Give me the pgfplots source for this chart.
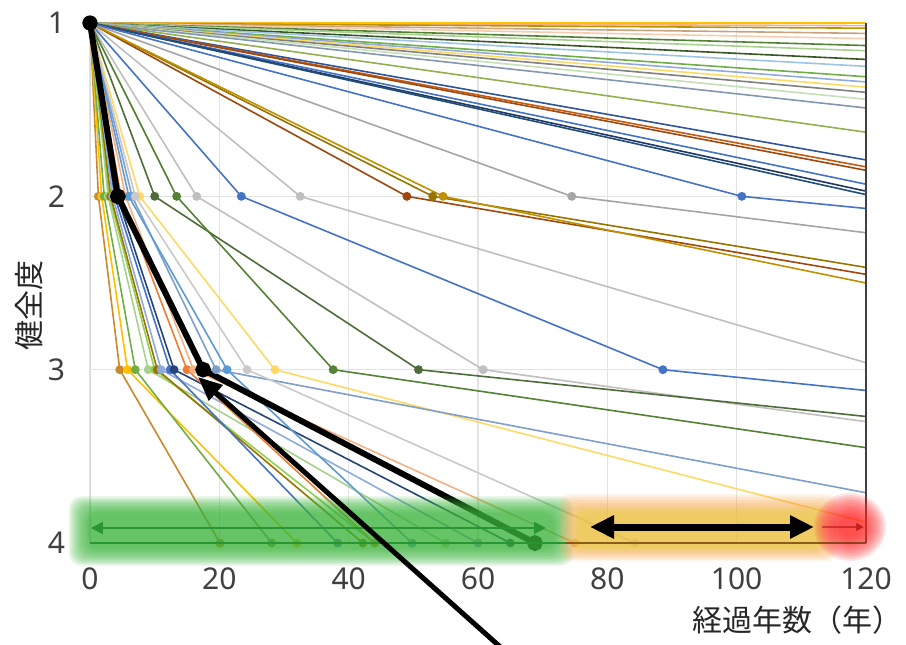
\documentclass[border=0pt]{standalone}
\usepackage{fontspec}
\setmainfont{Noto Sans}
\newfontfamily\jp{Noto Sans CJK JP}
\usepackage{pgfplots}
\pgfplotsset{compat=1.18}
\usetikzlibrary{arrows.meta}
\definecolor{cGold}{HTML}{FFC000}
\definecolor{cLOr}{HTML}{F4B183}
\definecolor{cDGold}{HTML}{BF9000}
\definecolor{cLBr}{HTML}{C9A27E}
\definecolor{cPeach}{HTML}{F8CBAD}
\definecolor{cDGr}{HTML}{548235}
\definecolor{cLGr}{HTML}{A9D18E}
\definecolor{cDDGr}{HTML}{375623}
\definecolor{cLBl}{HTML}{9DC3E6}
\definecolor{cGr}{HTML}{70AD47}
\definecolor{cLav}{HTML}{8FAADC}
\definecolor{cYel}{HTML}{FFD966}
\definecolor{cGray}{HTML}{7F7F7F}
\definecolor{cPGr}{HTML}{C5E0B4}
\definecolor{cGBl}{HTML}{8497B0}
\definecolor{cOlG}{HTML}{92B050}
\definecolor{cDBl}{HTML}{2F5597}
\definecolor{cBr}{HTML}{C55A11}
\definecolor{cDBr}{HTML}{9E480E}
\definecolor{cBl}{HTML}{4472C4}
\definecolor{cNavy}{HTML}{203864}
\definecolor{cDBl2}{HTML}{1F4E79}
\definecolor{cOl}{HTML}{997300}
\definecolor{cMGray}{HTML}{A5A5A5}
\definecolor{cLGray}{HTML}{BFBFBF}
\definecolor{cGGr}{HTML}{4E6B3A}
\definecolor{cOr}{HTML}{ED7D31}
\definecolor{cSky}{HTML}{5B9BD5}
\definecolor{cPGray}{HTML}{C9C9C9}
\definecolor{cYG}{HTML}{92D050}
\definecolor{cDNavy}{HTML}{264478}
\definecolor{cOGold}{HTML}{C98A2B}
\definecolor{cSteel}{HTML}{7F9FC8}
\definecolor{bandG}{RGB}{60,180,60}
\definecolor{bandO}{RGB}{245,160,60}
\definecolor{bandY}{RGB}{232,205,70}
\definecolor{bandR}{RGB}{255,40,40}
\definecolor{arrG}{RGB}{40,150,50}
\newcommand{\sen}[2]{\addplot[line width=0.8pt, color=#1, no marks] coordinates {#2};}
\newcommand{\ser}[3]{\addplot[line width=0.8pt, color=#1, mark=*, mark size=1.8pt, mark indices={#2}] coordinates {#3};}
\begin{document}
\begin{tikzpicture}
\useasboundingbox (-45pt,-50.5pt) rectangle (408pt,271.5pt);
\begin{axis}[
  at={(0,0)}, anchor=south west,
  scale only axis, width=388pt, height=260pt,
  xmin=0, xmax=120, ymin=1, ymax=4, y dir=reverse,
  xtick={0,20,...,120}, ytick={1,2,3,4},
  grid=major, major grid style={gray!22, line width=0.6pt},
  axis line style={gray!30},
  major tick length=0pt,
  clip=false,
  tick label style={font=\fontsize{15}{18}\selectfont, text=black!75},
  /pgf/number format/assume math mode=true,
  xticklabel style={yshift=-9pt},
  yticklabel style={xshift=-9pt},
]
% straight fan lines to the right edge
\sen{cGold}{(0,1)(120,1.00)}
\sen{cLOr}{(0,1)(120,1.015)}
\sen{cDGold}{(0,1)(120,1.03)}
\sen{cLBr}{(0,1)(120,1.06)}
\sen{cPeach}{(0,1)(120,1.09)}
\sen{cDGr}{(0,1)(120,1.13)}
\sen{cLGr}{(0,1)(120,1.16)}
\sen{cDDGr}{(0,1)(120,1.21)}
\sen{cLBl}{(0,1)(120,1.25)}
\sen{cGr}{(0,1)(120,1.31)}
\sen{cLav}{(0,1)(120,1.34)}
\sen{cYel}{(0,1)(120,1.37)}
\sen{cGray}{(0,1)(120,1.40)}
\sen{cPGr}{(0,1)(120,1.44)}
\sen{cGBl}{(0,1)(120,1.49)}
\sen{cOlG}{(0,1)(120,1.63)}
\sen{cDBl}{(0,1)(120,1.79)}
\sen{cBr}{(0,1)(120,1.83)}
\sen{cDBr}{(0,1)(120,1.85)}
\sen{cBl}{(0,1)(120,1.93)}
\sen{cNavy}{(0,1)(120,1.97)}
\sen{cDBl2}{(0,1)(120,1.99)}
% lines with a point at 2
\ser{cDBr}{2}{(0,1)(49,2)(120,2.45)}
\ser{cOl}{2}{(0,1)(53,2)(120,2.41)}
\ser{cDGold}{2}{(0,1)(54.6,2)(120,2.50)}
\ser{cMGray}{2}{(0,1)(74.5,2)(120,2.21)}
\ser{cBl}{2}{(0,1)(100.8,2)(120,2.07)}
\ser{cLGray}{2}{(0,1)(32.5,2)(120,2.96)}
% lines with points at 2 and 3
\ser{cBl}{2,3}{(0,1)(23.4,2)(88.6,3)(120,3.12)}
\ser{cLGray}{2,3}{(0,1)(16.5,2)(60.8,3)(120,3.30)}
\ser{cGGr}{2,3}{(0,1)(10,2)(50.8,3)(120,3.27)}
\ser{cDGr}{2,3}{(0,1)(13.4,2)(37.6,3)(120,3.45)}
\ser{cYel}{2,3}{(0,1)(7.7,2)(28.6,3)(120,3.88)}
\ser{cSteel}{2,3}{(0,1)(6.5,2)(19.5,3)(120,3.71)}
% steep lines reaching 4
\ser{cOGold}{2,3,4}{(0,1)(1.3,2)(4.6,3)(20.1,4)}
\ser{cGold}{2,3,4}{(0,1)(1.8,2)(5.8,3)(32,4)}
\ser{cGr}{2,3,4}{(0,1)(2.2,2)(7,3)(28.1,4)}
\ser{cLGr}{2,3,4}{(0,1)(2.8,2)(9,3)(55,4)}
\ser{cYG}{2,3,4}{(0,1)(3,2)(10,3)(44,4)}
\ser{cOl}{2,3,4}{(0,1)(3.2,2)(10.4,3)(42.2,4)}
\ser{cLav}{2,3,4}{(0,1)(3.5,2)(11,3)(60,4)}
\ser{cBl}{2,3,4}{(0,1)(3.8,2)(12.4,3)(38.3,4)}
\ser{cDNavy}{2,3,4}{(0,1)(4.2,2)(13,3)(65,4)}
\ser{cOr}{2,3,4}{(0,1)(4.8,2)(15,3)(44,4)}
\ser{cLOr}{2,3,4}{(0,1)(5.5,2)(16,3)(75,4)}
\ser{cSky}{2,3,4}{(0,1)(6,2)(21.2,3)(49.8,4)}
\ser{cPGray}{2,3,4}{(0,1)(7,2)(24.3,3)(84.3,4)}
% right edge
\addplot[line width=0.8pt, black!75, no marks] coordinates {(120,1)(120,4)};
% highlighted series
\addplot[line width=3pt, black, mark=*, mark size=2.4pt, mark indices={2,3,4}] coordinates {(0,1)(4.3,2)(17.5,3)(68.8,4)};
\addplot[only marks, mark=*, mark size=3.6pt, black] coordinates {(0,1)};
\node[rotate=90, font=\jp\fontsize{15}{18}\selectfont, text=black!85] at ([xshift=-30.5pt]axis cs:0,2.63) {健全度};
\node[anchor=east, font=\jp\fontsize{15}{18}\selectfont, text=black!85] at ([xshift=22pt, yshift=-38.5pt]axis cs:120,4) {経過年数（年）};
\end{axis}
% soft bands
\foreach \d in {0,1,...,12} {
  \fill[bandG, opacity=0.11, rounded corners=6pt] ({-1pt-\d*0.8pt},{-3pt-\d*0.7pt}) rectangle ({232pt+\d*0.8pt},{15pt+\d*0.7pt});
}
\foreach \d in {5,6,...,12} {
  \fill[bandO, opacity=0.09, rounded corners=5pt] ({244pt-\d*0.8pt},{-2pt-\d*0.6pt}) rectangle ({364pt+\d*0.8pt},{15pt+\d*0.8pt});
}
\foreach \d in {0,1,...,4} {
  \fill[bandY, opacity=0.18, rounded corners=4pt] ({244pt-\d*0.8pt},{-2pt-\d*0.6pt}) rectangle ({364pt+\d*0.8pt},{15pt+\d*0.8pt});
}
\foreach \d in {0,1,...,12} {
  \fill[bandR, opacity=0.12] (380pt,8pt) ellipse ({6pt+\d*1.0pt} and {5pt+\d*1.0pt});
}
% arrows
\draw[arrG, line width=1pt, {Triangle[length=6pt,width=6pt]}-{Triangle[length=6pt,width=6pt]}] (0.5pt,7.5pt) -- (228pt,7.5pt);
\draw[arrG, line width=1.2pt] (0,0) -- (238pt,0);
\draw[black!50!orange!80!black, line width=1pt, opacity=0.7] (238pt,0) -- (388pt,0);
\draw[black, line width=3.5pt, {Triangle[length=12pt,width=11pt]}-{Triangle[length=12pt,width=11pt]}] (250pt,8pt) -- (362pt,8pt);
\draw[red!60!black, opacity=0.45, line width=0.8pt, -{Triangle[length=4pt,width=4pt]}] (366pt,8pt) -- (387pt,8pt);
\draw[black, line width=2.5pt, -{Triangle[length=12pt,width=10pt]}] (210pt,-56.3pt) -- (54pt,83pt);
\end{tikzpicture}
\end{document}
